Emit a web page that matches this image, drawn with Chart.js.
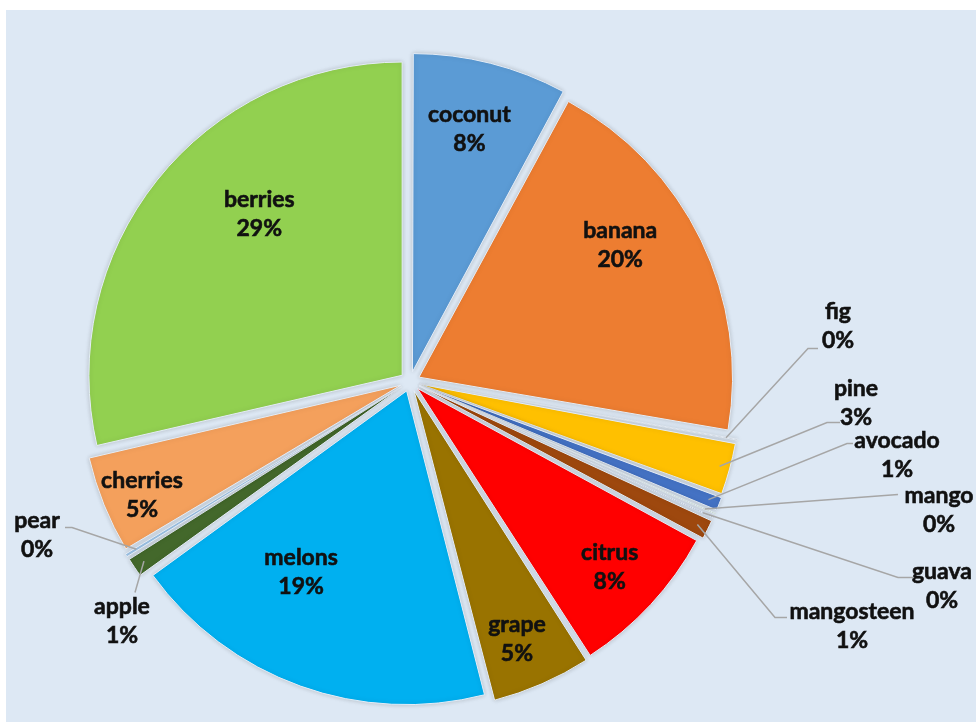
<!DOCTYPE html>
<html>
<head>
<meta charset="utf-8">
<script src="https://cdn.jsdelivr.net/npm/chart.js@4.4.0/dist/chart.umd.min.js"></script>
<style>
  body { margin: 0; background: #fff; }
  #panel { position: absolute; left: 6px; top: 10px; width: 970px; height: 712px; background: #dde8f4; }
</style>
</head>
<body>
<div id="panel"><canvas id="pie" width="970" height="712"></canvas></div>
<script>
// slices clockwise from 12 o'clock
const fruits = ['coconut', 'banana', 'fig', 'pine', 'avocado', 'mango', 'guava', 'mangosteen',
                'citrus', 'grape', 'melons', 'apple', 'pear', 'cherries', 'berries']
const shares = [7.9, 19.8, 0.2, 2.7, 0.8, 0.2, 0.2, 1.1, 8.0, 5.1, 19.0, 1.1, 0.3, 5.0, 28.6]
const sliceColors = ['#5b9bd5', '#ed7d31', '#a5a5a5', '#ffc000', '#4472c4', '#70ad47', '#264478', '#9e480e',
                     '#ff0000', '#997300', '#00b0f0', '#43682b', '#9dc3e6', '#f4a05c', '#92d050']

// labels drawn inside the slice: [angle shift in degrees, distance as fraction of radius]
const inside = {
    coconut: [-1, 0.83], banana: [-7, 0.80], citrus: [0, 0.87], grape: [1, 0.89],
    melons: [10, 0.70], cherries: [-1, 0.93], berries: [9.5, 0.72]
}
// callout labels: text centre, leader elbow, leader end (px from pie centre)
const callouts = {
    fig:        { text: [428, -55], elbow: [398, -33], end: [408, -33] },
    pine:       { text: [446, 22],  elbow: [417, 41],  end: [430, 41] },
    avocado:    { text: [487, 74],  elbow: [437, 62],  end: [443, 62] },
    mango:      { text: [529, 129], elbow: [488, 113], end: [488, 113] },
    guava:      { text: [532, 205], elbow: [488, 196], end: [503, 196] },
    mangosteen: { text: [442, 245], elbow: [365, 236], end: [377, 236] },
    pear:       { text: [-373, 154], elbow: [-338, 146], end: [-345, 146] },
    apple:      { text: [-288, 240], elbow: [-275, 211], end: [-275, 211] }
}

const FONT = 'bold 23px Lato'
const LINE_H = 29

function pct(i) {
    let total = shares.reduce((a, b) => a + b, 0)
    return Math.round(shares[i] / total * 100) + '%'
}

function twoLines(ctx, x, y, a, b) {
    ctx.save()
    ctx.strokeStyle = '#111'
    ctx.lineWidth = 0.6
    ctx.fillText(a, x, y - LINE_H / 2)
    ctx.strokeText(a, x, y - LINE_H / 2)
    ctx.fillText(b, x, y + LINE_H / 2)
    ctx.strokeText(b, x, y + LINE_H / 2)
    ctx.restore()
}

const shadowPlugin = {
    id: 'shadow',
    beforeDatasetsDraw(chart) {
        let ctx = chart.ctx
        ctx.save()
        ctx.shadowColor = 'rgba(0,0,0,0.18)'
        ctx.shadowBlur = 5
    },
    afterDatasetsDraw(chart) {
        chart.ctx.restore()
    }
}

const labelPlugin = {
    id: 'sliceLabels',
    afterDatasetsDraw(chart) {
        let ctx = chart.ctx
        let arcs = chart.getDatasetMeta(0).data
        ctx.save()
        ctx.font = FONT
        ctx.fillStyle = '#111'
        ctx.textAlign = 'center'
        ctx.textBaseline = 'middle'
        ctx.strokeStyle = '#a6a6a6'
        ctx.lineWidth = 1.5
        arcs.forEach((arc, i) => {
            let name = fruits[i]
            let p = arc.getProps(['x', 'y', 'startAngle', 'endAngle', 'outerRadius'], true)
            let mid = (p.startAngle + p.endAngle) / 2
            // chart.js moves an arc out by a quarter of its offset option
            let off = arc.options.offset / 4
            if (inside[name]) {
                let a = mid + inside[name][0] * Math.PI / 180
                let r = inside[name][1] * p.outerRadius
                twoLines(ctx, p.x + Math.cos(a) * r, p.y + Math.sin(a) * r, name, pct(i))
            } else if (callouts[name]) {
                let c = callouts[name]
                let r = p.outerRadius + off - 2
                ctx.beginPath()
                ctx.moveTo(p.x + Math.cos(mid) * r, p.y + Math.sin(mid) * r)
                ctx.lineTo(p.x + c.elbow[0], p.y + c.elbow[1])
                ctx.lineTo(p.x + c.end[0], p.y + c.end[1])
                ctx.stroke()
                twoLines(ctx, p.x + c.text[0], p.y + c.text[1], name, pct(i))
            }
        })
        ctx.restore()
    }
}

new Chart(document.getElementById('pie').getContext('2d'), {
    type: 'pie',
    data: {
        labels: fruits,
        datasets: [{
            data: shares,
            backgroundColor: sliceColors,
            borderColor: '#e4ecf6',
            borderWidth: 1,
            offset: 40
        }]
    },
    options: {
        responsive: false,
        animation: false,
        layout: { padding: { top: 38, bottom: 7, left: 60, right: 222 } },
        plugins: {
            legend: { display: false },
            tooltip: { enabled: false }
        }
    },
    plugins: [shadowPlugin, labelPlugin]
})
</script>
</body>
</html>
